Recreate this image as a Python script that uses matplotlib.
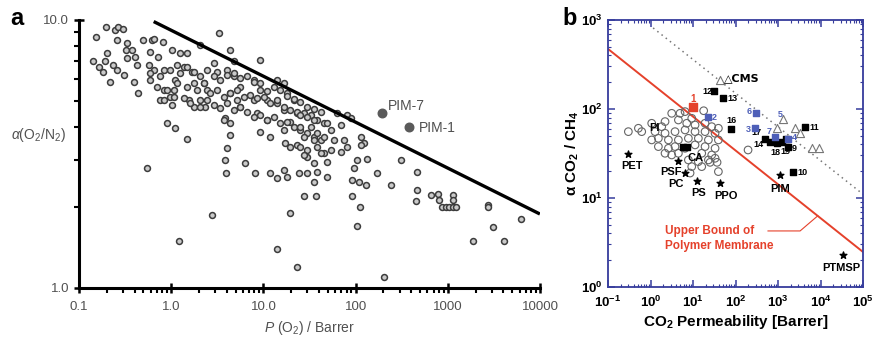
import numpy as np
import matplotlib
matplotlib.use('Agg')
import matplotlib.pyplot as plt

plt.rcParams['font.family'] = ['Liberation Sans', 'DejaVu Sans']
plt.rcParams['mathtext.fontset'] = 'custom'
plt.rcParams['mathtext.rm'] = 'Liberation Sans'
plt.rcParams['mathtext.it'] = 'Liberation Sans:italic'
plt.rcParams['mathtext.bf'] = 'Liberation Sans:bold'

# ---- panel a : O2/N2, values as (log10 P, log10 alpha)
a_pts = [
    (-0.815,0.935),(-0.707,0.975),(-0.609,0.963),(-0.572,0.975),(-0.525,0.965),(-0.591,0.925),
    (-0.851,0.847),(-0.779,0.826),(-0.699,0.876),(-0.717,0.845),(-0.627,0.832),(-0.591,0.813),
    (-0.663,0.770),(-0.736,0.807),(-0.482,0.913),(-0.489,0.888),(-0.428,0.888),(-0.482,0.857),
    (-0.391,0.863),(-0.373,0.832),(-0.511,0.795),(-0.409,0.770),(-0.355,0.726),(-0.301,0.925),
    (-0.210,0.925),(-0.185,0.928),(-0.091,0.919),(-0.228,0.882),(-0.138,0.863),(-0.246,0.832),
    (-0.192,0.813),(-0.083,0.813),(-0.228,0.776),(-0.083,0.739),(-0.120,0.701),(0.007,0.888),
    (0.098,0.876),(0.170,0.876),(0.062,0.832),(0.134,0.826),(0.043,0.776),(0.025,0.739),
    (0.007,0.683),(-0.011,0.714),(0.225,0.807),(0.243,0.764),(0.188,0.701),(0.243,0.677),
    (0.315,0.907),(0.514,0.953),(0.460,0.838),(0.496,0.807),(0.351,0.764),(0.388,0.739),
    (0.315,0.701),(0.370,0.677),(0.641,0.888),(0.678,0.845),(0.605,0.813),(0.678,0.789),
    (0.750,0.751),(0.641,0.726),(0.714,0.701),(0.750,0.677),(0.587,0.633),(0.641,0.614),
    (-0.047,0.614),(0.043,0.596),(0.170,0.555),(0.641,0.571),(0.605,0.521),(0.587,0.478),
    (0.804,0.465),(-0.264,0.447),(0.967,0.851),(0.895,0.776),(0.967,0.739),(0.895,0.701),
    (1.040,0.701),(0.931,0.652),(1.040,0.627),(0.967,0.583),(1.076,0.565),(1.149,0.776),
    (1.221,0.764),(1.257,0.726),(1.149,0.689),(1.221,0.664),(1.330,0.701),(1.366,0.652),
    (1.293,0.621),(1.221,0.590),(1.239,0.540),(1.293,0.527),(1.366,0.534),
    (-0.228,0.801),(-0.120,0.789),(-0.011,0.813),(0.098,0.801),(0.170,0.826),(0.243,0.807),
    (0.315,0.789),(0.388,0.813),(0.460,0.789),(0.533,0.776),(0.605,0.795),(0.678,0.801),
    (0.750,0.782),(0.822,0.789),(0.895,0.770),(0.967,0.764),(1.040,0.735),(1.112,0.750),
    (1.185,0.740),(1.257,0.715),(1.330,0.705),(1.402,0.693),(1.475,0.675),(1.547,0.668),
    (1.620,0.655),
    (-0.156,0.751),(-0.047,0.739),(0.062,0.764),(0.170,0.751),(0.279,0.739),(0.351,0.764),
    (0.424,0.726),(0.496,0.739),(0.569,0.714),(0.641,0.726),(0.714,0.739),(0.786,0.714),
    (0.859,0.720),(0.931,0.708),(1.004,0.714),(1.076,0.689),(1.149,0.701),(1.221,0.677),
    (1.293,0.664),(1.366,0.658),(1.438,0.652),(1.511,0.646),(1.583,0.627),(1.656,0.614),
    (-0.083,0.701),(0.025,0.714),(0.134,0.708),(0.207,0.689),(0.315,0.677),(0.388,0.701),
    (0.460,0.683),(0.533,0.670),(0.605,0.689),(0.678,0.664),(0.750,0.677),(0.822,0.658),
    (0.895,0.639),(0.967,0.646),(1.040,0.627),(1.112,0.639),(1.185,0.614),(1.257,0.621),
    (1.330,0.602),(1.402,0.590),(1.475,0.577),(1.547,0.565),(1.620,0.552),
    (0.569,0.627),(1.475,0.515),(1.583,0.527),(1.656,0.502),
    (1.402,0.646),(1.475,0.639),(1.547,0.627),(1.402,0.602),(1.511,0.602),(1.583,0.577),
    (1.438,0.565),(1.547,0.552),(1.692,0.614),(1.801,0.652),(1.909,0.646),(1.946,0.633),
    (1.728,0.590),(1.837,0.608),(1.656,0.565),(1.764,0.552),(1.873,0.552),(2.054,0.565),
    (2.091,0.540),(1.909,0.527),(2.054,0.534),(1.402,0.527),(1.475,0.490),(1.620,0.502),
    (1.728,0.515),(1.837,0.509),(1.438,0.496),(1.547,0.465),(1.692,0.471),(2.018,0.478),
    (2.127,0.480),(2.489,0.478),
    (1.475,0.428),(1.583,0.434),(1.692,0.415),(1.547,0.397),(1.982,0.447),(1.964,0.403),
    (2.036,0.397),(2.109,0.384),(2.236,0.428),(2.380,0.384),(2.670,0.434),(2.670,0.366),
    (2.652,0.325),(2.815,0.347),(2.888,0.351),(2.906,0.328),(2.942,0.301),(2.978,0.301),
    (3.014,0.301),(3.051,0.301),(3.087,0.301),(3.051,0.347),(3.051,0.328),(3.431,0.310),
    (3.431,0.301),(3.793,0.256),(1.438,0.343),(1.565,0.343),(1.964,0.343),(2.047,0.301),
    (2.011,0.231),(3.486,0.226),
    (1.221,0.440),(1.257,0.415),(1.286,0.281),(1.366,0.080),(3.268,0.177),(3.612,0.177),
    (2.308,0.042),(0.442,0.272),(0.080,0.177),(0.598,0.430),(0.913,0.430),(1.076,0.430),
    (1.149,0.409),(1.149,0.146),(1.384,0.430),
]
a_perm = [10 ** p for p, s in a_pts]
a_sel = [10 ** s for p, s in a_pts]

pim_names = ['PIM-7', 'PIM-1']
pim_perm = [195, 380]
pim_sel = [4.5, 4.0]

bound_a_perm = [0.67, 9600]
bound_a_sel = [9.8, 1.9]

# ---- panel b : CO2/CH4
b_circles = [
    (-0.522,1.745),(-0.286,1.783),(-0.208,1.745),(0.027,1.839),(0.263,1.801),(0.341,1.858),
    (0.498,1.951),(0.694,1.951),(0.812,1.970),(0.969,1.895),(0.655,1.876),(0.851,1.839),
    (1.047,1.820),(1.282,1.839),(1.439,1.801),(1.596,1.783),(0.106,1.745),(0.341,1.727),
    (0.576,1.745),(0.812,1.764),(1.047,1.745),(1.282,1.745),(1.518,1.727),(0.027,1.652),
    (0.184,1.670),(0.420,1.652),(0.655,1.652),(0.890,1.670),(1.125,1.670),(1.361,1.652),
    (1.596,1.652),(0.184,1.577),(0.420,1.558),(0.576,1.577),(0.812,1.558),(1.047,1.596),
    (1.282,1.577),(1.518,1.558),(0.341,1.502),(0.498,1.483),(0.655,1.502),(1.204,1.502),
    (1.439,1.483),(0.890,1.427),(1.125,1.408),(1.361,1.427),(1.518,1.446),(0.969,1.352),
    (1.204,1.352),(1.596,1.296),(2.294,1.539),(1.250,1.980),(1.400,1.400),(1.565,1.400),
    (0.930,1.280),
]
b_circ_perm = [10 ** p for p, s in b_circles]
b_circ_sel = [10 ** s for p, s in b_circles]

star_names = ['PET', 'PSF', 'PC', 'PS', 'PPO', 'PIM', 'PTMSP']
star_perm = [0.30, 4.4, 6.5, 12.4, 43, 1110, 34000]
star_sel = [31.2, 26.1, 19.1, 15.5, 14.8, 18.1, 2.3]

tri_perm = [43, 1310, 2500, 3300, 6300, 9200, 950]
tri_sel = [212, 77, 61, 54, 36.5, 36.5, 61]

sq_names = ['12', '13', '16', '11', '17', '14', '18', '19', '9', '10', '', '', '']
sq_perm = [31, 51, 78, 4300, 490, 650, 950, 1240, 1720, 2250, 5.8, 7.2, 1500]
sq_sel = [159, 133, 60, 63, 46, 42.6, 41.5, 42.6, 37.4, 19.6, 37.4, 37.4, 46]

blue_names = ['2', '6', '3', '7', '4']
blue_perm = [22.5, 303, 288, 850, 1720]
blue_sel = [81, 90, 61, 48.4, 46]

red_names = ['1']
red_perm = [10]
red_sel = [105]

bound_b_perm = [0.1, 1e5]
bound_b_sel = [472, 2.47]
cms_line_perm = [1.15, 1e5]
cms_line_sel = [813, 11]

navy = '#363c9c'
blue = '#4e5fb8'
red = '#e5412b'
grey_txt = '#505050'

fig = plt.figure(figsize=(8.74, 3.38), dpi=100)

# ================= panel a
ax1 = fig.add_axes([0.0904, 0.148, 0.5275, 0.793])
ax1.set_xscale('log')
ax1.set_yscale('log')
ax1.scatter(a_perm, a_sel, s=18, facecolor='#cacaca', edgecolor='#3c3c3c',
            linewidths=1.1, zorder=3, clip_on=False)
ax1.plot(bound_a_perm, bound_a_sel, color='black', lw=2.4, zorder=4)
ax1.scatter(pim_perm, pim_sel, s=38, color='#5a5a5a', zorder=5)
ax1.annotate(pim_names[0], (pim_perm[0], pim_sel[0]), xytext=(4, 2),
             textcoords='offset points', fontsize=10, color=grey_txt)
ax1.annotate(pim_names[1], (pim_perm[1], pim_sel[1]), xytext=(7, -4),
             textcoords='offset points', fontsize=10, color=grey_txt)
ax1.set_xlim(0.1, 10000)
ax1.set_ylim(1, 10)
ax1.set_xticks([0.1, 1, 10, 100, 1000, 10000])
ax1.set_xticklabels(['0.1', '1.0', '10.0', '100', '1000', '10000'])
ax1.set_yticks([1, 10])
ax1.set_yticklabels(['1.0', '10.0'])
for s in ['top', 'right']:
    ax1.spines[s].set_visible(False)
for s in ['left', 'bottom']:
    ax1.spines[s].set_linewidth(2.2)
ax1.tick_params(which='major', direction='inout', length=7, width=1.8,
                labelsize=9.5, labelcolor=grey_txt)
ax1.tick_params(which='minor', direction='out', length=3.5, width=1.5)
ax1.tick_params(axis='y', which='minor', labelleft=False)
ax1.tick_params(axis='x', which='major', pad=6)
ax1.set_xlabel(r'$P$ (O$_2$) / Barrer', fontsize=10, color=grey_txt, labelpad=4)
ax1.text(-0.088, 0.57, r'$\alpha$(O$_2$/N$_2$)', transform=ax1.transAxes,
         fontsize=10, color=grey_txt, ha='center', va='center')
fig.text(0.012, 0.925, 'a', fontsize=17, fontweight='bold')

# ================= panel b
ax2 = fig.add_axes([0.6957, 0.151, 0.2918, 0.790])
ax2.set_xscale('log')
ax2.set_yscale('log')
ax2.plot(cms_line_perm, cms_line_sel, color='#777777', lw=1.1, ls=(0, (1, 2.5)), zorder=1)
ax2.plot(bound_b_perm, bound_b_sel, color=red, lw=1.4, zorder=2)
ax2.scatter(b_circ_perm, b_circ_sel, s=30, facecolor='none', edgecolor='#666666',
            linewidths=0.8, zorder=3)
ax2.scatter(tri_perm, tri_sel, s=34, marker='^', facecolor='white', edgecolor='#777777',
            linewidths=0.8, zorder=3)
ax2.scatter(star_perm, star_sel, s=26, marker='*', color='black', zorder=4)
ax2.scatter(sq_perm, sq_sel, s=22, marker='s', color='black', zorder=4)
ax2.scatter(blue_perm, blue_sel, s=22, marker='s', color=blue, zorder=4)
ax2.scatter(red_perm, red_sel, s=30, marker='s', color=red, zorder=4)

star_off = {'PET': (-5, -11), 'PSF': (-13, -10), 'PC': (-12, -10), 'PS': (-4, -11),
            'PPO': (-4, -12), 'PIM': (-7, -12), 'PTMSP': (-15, -12)}
for n, p, s in zip(star_names, star_perm, star_sel):
    ax2.annotate(n, (p, s), xytext=star_off[n], textcoords='offset points',
                 fontsize=8, fontweight='bold')
ax2.text(7.6, 28, 'CA', fontsize=8, fontweight='bold', va='center')
ax2.text(0.95, 61, 'PI', fontsize=8, fontweight='bold', va='center')
ax2.text(52, 205, '\u25b3CMS', fontsize=8, fontweight='bold', family='DejaVu Sans')

sq_off = {'12': (-8, -2), '13': (3, -2), '16': (-3, 4), '11': (3, -2), '17': (-10, 3),
          '14': (-12, -4), '18': (-5, -9), '19': (-1, -9), '9': (3, -3), '10': (3, -2)}
for n, p, s in zip(sq_names, sq_perm, sq_sel):
    if n:
        ax2.annotate(n, (p, s), xytext=sq_off[n], textcoords='offset points',
                     fontsize=6.5, fontweight='bold')
blue_off = {'2': (3, -2), '6': (-7, -1), '3': (-7, -3), '7': (-6, 2), '4': (3, -1)}
for n, p, s in zip(blue_names, blue_perm, blue_sel):
    ax2.annotate(n, (p, s), xytext=blue_off[n], textcoords='offset points',
                 fontsize=6.5, fontweight='bold', color=blue)
ax2.text(1000, 82, '5', fontsize=6.5, fontweight='bold', color=blue)
ax2.annotate(red_names[0], (red_perm[0], red_sel[0]), xytext=(-2, 4),
             textcoords='offset points', fontsize=7, fontweight='bold', color=red)

ax2.text(2.2, 3.5, 'Upper Bound of\nPolymer Membrane', fontsize=8.5, fontweight='bold',
         color=red, linespacing=1.25, va='center')
ax2.plot([580, 3300, 8600], [4.26, 4.26, 6.3], color=red, lw=0.8)

ax2.set_xlim(0.1, 1e5)
ax2.set_ylim(1, 1000)
ax2.set_xticks([0.1, 1, 10, 100, 1000, 1e4, 1e5])
ax2.set_xticklabels([r'$\mathbf{10^{%d}}$' % k for k in range(-1, 6)])
ax2.set_yticks([1, 10, 100, 1000])
ax2.set_yticklabels([r'$\mathbf{10^{%d}}$' % k for k in range(0, 4)])
for s in ax2.spines.values():
    s.set_color(navy)
    s.set_linewidth(1.3)
ax2.tick_params(which='both', direction='in', top=True, right=True, color=navy,
                labelsize=9.5)
ax2.tick_params(which='major', length=5, width=1.1)
ax2.tick_params(axis='x', which='major', pad=6)
ax2.tick_params(axis='y', which='major', pad=4)
ax2.tick_params(which='minor', length=2.5, width=0.8, labelbottom=False, labelleft=False)
ax2.set_xlabel(r'CO$_\mathbf{2}$ Permeability [Barrer]', fontsize=11, fontweight='bold',
               labelpad=2)
ax2.set_ylabel(r'α CO$_\mathbf{2}$ / CH$_\mathbf{4}$', fontsize=11, fontweight='bold',
               labelpad=0)
fig.text(0.643, 0.925, 'b', fontsize=17, fontweight='bold')

fig.savefig('out.png', dpi=100)
